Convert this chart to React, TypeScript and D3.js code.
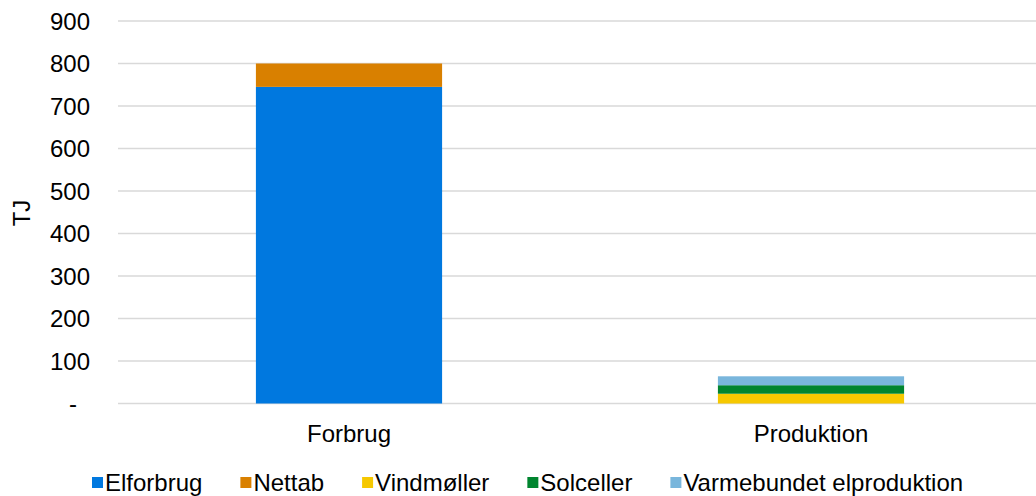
import React from "react";
import * as d3 from "d3";

const categories = ["Forbrug", "Produktion"];
const seriesNames = ["Elforbrug", "Nettab", "Vindmøller", "Solceller", "Varmebundet elproduktion"];
const seriesColors = ["#0078DF", "#D98000", "#F6C800", "#00852F", "#79B6DC"];
const elforbrug = [745, 0];
const nettab = [55, 0];
const vindmoller = [0, 23];
const solceller = [0, 20];
const varmebundet = [0, 21];
const yTicks = [0, 100, 200, 300, 400, 500, 600, 700, 800, 900];

const W = 1036;
const H = 496;
const FONT = "'Liberation Sans', Arial, sans-serif";

function measure(text: string, size: number) {
  const c = document.createElement("canvas").getContext("2d");
  if (!c) return text.length * size * 0.5;
  c.font = `${size}px ${FONT}`;
  return c.measureText(text).width;
}

export default function App() {
  const values = [elforbrug, nettab, vindmoller, solceller, varmebundet];
  const data = categories.map((c, i) => {
    const o: any = { cat: c };
    seriesNames.forEach((s, j) => (o[s] = values[j][i]));
    return o;
  });
  const stack = d3.stack<any>().keys(seriesNames)(data);

  const x = d3.scaleBand<string>().domain(categories).range([118, 1042]).padding(0);
  const y = d3.scaleLinear().domain([0, 900]).range([403.5, 21]);
  const barW = x.bandwidth() * 0.403;

  // legend layout
  const fs = 24;
  let lx = 92;
  const legendItems = seriesNames.map((s, i) => {
    const item = { name: s, color: seriesColors[i], x: lx };
    lx += 13 + measure(s, fs) + 38;
    return item;
  });

  return (
    <svg width={W} height={H} style={{ position: "absolute", left: 0, top: 0, background: "#fff" }} fontFamily={FONT}>
      {yTicks.map((t) => (
        <g key={t}>
          <line x1={118} x2={W} y1={y(t)} y2={y(t)} stroke="#d9d9d9" strokeWidth={1.5} />
          <text x={t === 0 ? 77 : 90} y={y(t) + 8.5} textAnchor="end" fontSize={fs} fill="#000">
            {t === 0 ? "-" : d3.format("d")(t)}
          </text>
        </g>
      ))}
      {stack.map((layer, si) => (
        <g key={si} fill={seriesColors[si]}>
          {layer.map((d, i) => {
            const h = y(d[0]) - y(d[1]);
            if (h <= 0) return null;
            const cx = (x(categories[i]) as number) + x.bandwidth() / 2;
            return <rect key={i} x={cx - barW / 2} y={y(d[1])} width={barW} height={h} />;
          })}
        </g>
      ))}
      {categories.map((c) => (
        <text key={c} x={(x(c) as number) + x.bandwidth() / 2} y={441.5} textAnchor="middle" fontSize={fs} fill="#000">
          {c}
        </text>
      ))}
      <text transform={`translate(30,213) rotate(-90)`} textAnchor="middle" fontSize={fs} fill="#000">
        TJ
      </text>
      {legendItems.map((it) => (
        <g key={it.name}>
          <rect x={it.x} y={477} width={11} height={11} fill={it.color} />
          <text x={it.x + 13} y={490.5} fontSize={fs} fill="#000">
            {it.name}
          </text>
        </g>
      ))}
    </svg>
  );
}
